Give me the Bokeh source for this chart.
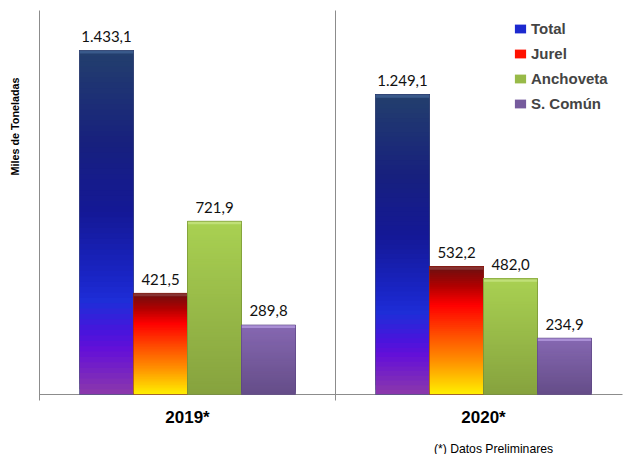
import math
from bokeh.plotting import figure
from bokeh.models import ColumnDataSource, Range1d, Legend, LegendItem, Label
from bokeh.core.properties import value
from bokeh.embed import file_html
from bokeh.resources import INLINE

# ---------------- data ----------------
years = ["2019*", "2020*"]
series = ["Total", "Jurel", "Anchoveta", "S. Común"]
total = [1433.1, 1249.1]
jurel = [421.5, 532.2]
anchoveta = [721.9, 482.0]
s_comun = [289.8, 234.9]
y_title = "Miles de Toneladas"
footnote = "(*) Datos Preliminares"
y_max = 1600

values = {"Total": total, "Jurel": jurel, "Anchoveta": anchoveta, "S. Común": s_comun}

# ---------------- style / layout ----------------
W, H = 624, 454
left_px, top_px, base_px = 39, 10, 394
group_px = 296.0
ppu = (base_px - top_px) / y_max          # pixels per data unit (vertical)
bw = 54.0 / group_px

gradients = {
    "Total": [(0.0, "#233f6d"), (0.27, "#17207e"), (0.47, "#141896"), (0.67, "#1a26c8"),
              (0.73, "#1e2ed8"), (0.82, "#4a14dc"), (0.87, "#6410d8"), (1.0, "#8c3aaa")],
    "Jurel": [(0.0, "#6a1010"), (0.15, "#b00000"), (0.3, "#ff0000"), (0.52, "#ff4a00"),
              (0.74, "#ff9000"), (1.0, "#fff000")],
    "Anchoveta": [(0.0, "#a9d152"), (1.0, "#86a23e")],
    "S. Común": [(0.0, "#8668b2"), (1.0, "#654d88")],
}
edge_colors = {"Total": "#44507a", "Jurel": "#8a2a1a", "Anchoveta": "#6f8a30", "S. Común": "#5a4580"}
top_colors = {"Total": "#3d5f90", "Jurel": "#8c3a3a", "Anchoveta": "#c4e37e", "S. Común": "#b096dc"}
legend_t = {"Total": 0.7, "Jurel": 0.35, "Anchoveta": 0.5, "S. Común": 0.5}
axis_gray = "#8c8c8c"

def hex2rgb(h):
    h = h.lstrip("#")
    return tuple(int(h[i:i + 2], 16) for i in (0, 2, 4))

def interp(stops, t):
    for (t0, c0), (t1, c1) in zip(stops[:-1], stops[1:]):
        if t0 <= t <= t1:
            f = 0 if t1 == t0 else (t - t0) / (t1 - t0)
            a, b = hex2rgb(c0), hex2rgb(c1)
            return "#%02x%02x%02x" % tuple(round(a[i] + (b[i] - a[i]) * f) for i in range(3))
    return stops[-1][1]

def fmt(v):
    return f"{v:,.1f}".replace(",", "X").replace(".", ",").replace("X", ".")

x_start = -left_px / group_px
x_end = (W - left_px) / group_px
x_frame_end = (622 - left_px) / group_px
y_top = y_max + top_px / ppu
y_bottom = -(H - base_px) / ppu

p = figure(width=W, height=H, output_backend="svg", toolbar_location=None,
           x_range=Range1d(x_start, x_end), y_range=Range1d(y_bottom, y_top),
           min_border=0, x_axis_location=None, y_axis_location=None)
p.outline_line_color = None
p.background_fill_color = "white"
p.border_fill_color = "white"
p.grid.visible = False

# axis structure: category boundary lines (incl. value axis) and baseline
n_cat = len(years)
bounds = list(range(n_cat + 1))
p.segment(x0=bounds, y0=[-6 / ppu] * len(bounds), x1=bounds, y1=[y_max] * len(bounds),
          line_color=axis_gray, line_width=1)
p.segment(x0=[0], y0=[0], x1=[x_frame_end], y1=[0], line_color=axis_gray, line_width=1)

legend_items = []
lab_x, lab_y, lab_t = [], [], []
for j, s in enumerate(series):
    vals = values[s]
    xs, bottoms, tops, colors = [], [], [], []
    N = 64
    centers = [i + 0.5 + (j - 1.5) * bw for i in range(len(vals))]
    for xc, v in zip(centers, vals):
        for k in range(N):
            xs.append(xc)
            bottoms.append(v * k / N)
            tops.append(v)
            colors.append(interp(gradients[s], 1 - (k + 0.5) / N))
        lab_x.append(xc)
        lab_y.append(v)
        lab_t.append(fmt(v))
    src = ColumnDataSource(dict(x=xs, bottom=bottoms, top=tops, color=colors))
    r = p.vbar(x="x", bottom="bottom", top="top", width=bw, fill_color="color",
               line_color=None, source=src)
    # bevel highlight on top edge
    p.vbar(x=centers, top=vals, bottom=[v - 3 / ppu for v in vals], width=bw,
           fill_color=top_colors[s], fill_alpha=0.85, line_color=None)
    p.vbar(x=centers, top=vals, bottom=0, width=bw, fill_color=None,
           line_color=edge_colors[s], line_alpha=0.6, line_width=1)
    idx = int((1 - legend_t[s]) * N)
    legend_items.append(LegendItem(label=s, renderers=[r], index=idx))

# value labels
p.text(x=lab_x, y=lab_y, text=lab_t, text_align="center", text_baseline="alphabetic",
       y_offset=-14, text_font=value("Lato"), text_font_size="15px", text_color="#111111")

# category labels
p.text(x=[i + 0.5 for i in range(n_cat)], y=[0] * n_cat, text=years, y_offset=23,
       text_align="center", text_baseline="middle", text_font=value("Liberation Sans"),
       text_font_style="bold", text_font_size="17px", text_color="#000000")

legend = Legend(items=legend_items, location=(513, 342), orientation="vertical",
                glyph_width=14, glyph_height=11, label_standoff=4,
                label_text_font="Liberation Sans", label_text_font_style="bold",
                label_text_font_size="15px", label_height=18, spacing=7,
                padding=0, margin=0, border_line_color=None, background_fill_alpha=0)
p.add_layout(legend)

p.add_layout(Label(x=(14 - left_px) / group_px, y=(base_px - 126) / ppu, text=y_title,
                   angle=math.pi / 2, text_align="center", text_baseline="middle",
                   text_font="Liberation Sans", text_font_style="bold",
                   text_font_size="10.8px", text_color="#000000"))
p.add_layout(Label(x=(493 - left_px) / group_px, y=(base_px - 448) / ppu, text=footnote,
                   text_align="center", text_baseline="middle",
                   text_font="Liberation Sans", text_font_size="12.2px", text_color="#000000"))

open("out.html", "w").write(file_html(p, INLINE))
